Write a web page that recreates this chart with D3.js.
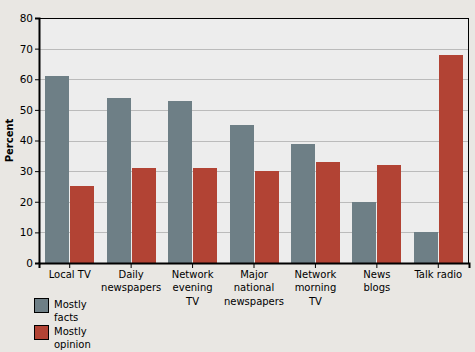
<!DOCTYPE html>
<html>
<head>
<meta charset="utf-8">
<script src="https://cdn.jsdelivr.net/npm/d3@7"></script>
<style>
  body { margin: 0; background: #e9e7e3; }
  text { font-family: "DejaVu Sans", Verdana, sans-serif; font-size: 10px; fill: #000; }
</style>
</head>
<body>
<div id="chart"></div>
<script>
const categories = [
    ['Local TV'],
    ['Daily', 'newspapers'],
    ['Network', 'evening', 'TV'],
    ['Major', 'national', 'newspapers'],
    ['Network', 'morning', 'TV'],
    ['News', 'blogs'],
    ['Talk radio']
];
const mostlyFacts = [61, 54, 53, 45, 39, 20, 10];
const mostlyOpinion = [25, 31, 31, 30, 33, 32, 68];
const series = [
    { name: ['Mostly', 'facts'], values: mostlyFacts, color: '#6e7f86' },
    { name: ['Mostly', 'opinion'], values: mostlyOpinion, color: '#b24334' }
];
const yTicks = [0, 10, 20, 30, 40, 50, 60, 70, 80];

const W = 475, H = 352;
const plot = { left: 39, top: 18, right: 469, bottom: 263 };

const svg = d3.select('#chart').append('svg')
    .attr('width', W)
    .attr('height', H);

const x = d3.scaleBand()
    .domain(d3.range(categories.length))
    .range([plot.left, plot.right]);

const y = d3.scaleLinear()
    .domain([0, 80])
    .range([plot.bottom, plot.top]);

// plot background
svg.append('rect')
    .attr('x', plot.left)
    .attr('y', plot.top)
    .attr('width', plot.right - plot.left)
    .attr('height', plot.bottom - plot.top)
    .attr('fill', '#ededed');

// gridlines
svg.append('g')
    .selectAll('line')
    .data(yTicks.filter(d => d > 0 && d < 80))
    .enter().append('line')
    .attr('x1', plot.left)
    .attr('x2', plot.right)
    .attr('y1', d => Math.round(y(d)) + 0.5)
    .attr('y2', d => Math.round(y(d)) + 0.5)
    .attr('stroke', '#bbbbbb')
    .attr('stroke-width', 1);

// bars
const barW = 24, gap = 1;
series.forEach((s, i) => {
    svg.append('g')
        .selectAll('rect')
        .data(s.values)
        .enter().append('rect')
        .attr('x', (d, j) => Math.round(x(j) + x.bandwidth() / 2 - barW - gap / 2 + i * (barW + gap)))
        .attr('y', d => Math.round(y(d)))
        .attr('width', barW)
        .attr('height', d => plot.bottom - Math.round(y(d)))
        .attr('fill', s.color);
});

// frame
svg.append('rect')
    .attr('x', plot.left + 0.5)
    .attr('y', plot.top + 0.5)
    .attr('width', plot.right - plot.left - 1)
    .attr('height', plot.bottom - plot.top)
    .attr('fill', 'none')
    .attr('stroke', '#000');

// y axis
const yAxis = svg.append('g')
    .attr('transform', `translate(${plot.left},0)`)
    .call(d3.axisLeft(y).tickValues(yTicks).tickSize(4).tickPadding(2));
yAxis.select('.domain').attr('stroke', '#000').attr('stroke-width', 2);
yAxis.selectAll('text').style('font-size', '10.5px').attr('fill', '#000');

// x axis
const xAxis = svg.append('g')
    .attr('transform', `translate(0,${plot.bottom})`)
    .call(d3.axisBottom(x).tickSize(5).tickFormat(''));
xAxis.select('.domain').attr('stroke', '#000').attr('stroke-width', 2);
xAxis.selectAll('.tick').each(function(d) {
    const t = d3.select(this).append('text')
        .attr('text-anchor', 'middle')
        .attr('y', 15);
    categories[d].forEach((line, k) => {
        t.append('tspan')
            .attr('x', 0)
            .attr('dy', k === 0 ? 0 : 13.3)
            .text(line);
    });
});

// y label
svg.append('text')
    .attr('transform', `translate(13,${(plot.top + plot.bottom) / 2}) rotate(-90)`)
    .attr('text-anchor', 'middle')
    .style('font-weight', 'bold')
    .text('Percent');

// legend
const legend = svg.append('g');
series.forEach((s, i) => {
    const g = legend.append('g')
        .attr('transform', `translate(34,${298 + i * 27})`);
    g.append('rect')
        .attr('x', 0.5)
        .attr('y', 0.5)
        .attr('width', 14)
        .attr('height', 14)
        .attr('fill', s.color)
        .attr('stroke', '#000');
    const t = g.append('text').attr('x', 20).attr('y', 10);
    s.name.forEach((line, k) => {
        t.append('tspan')
            .attr('x', 20)
            .attr('dy', k === 0 ? 0 : 13.3)
            .text(line);
    });
});
</script>
</body>
</html>
